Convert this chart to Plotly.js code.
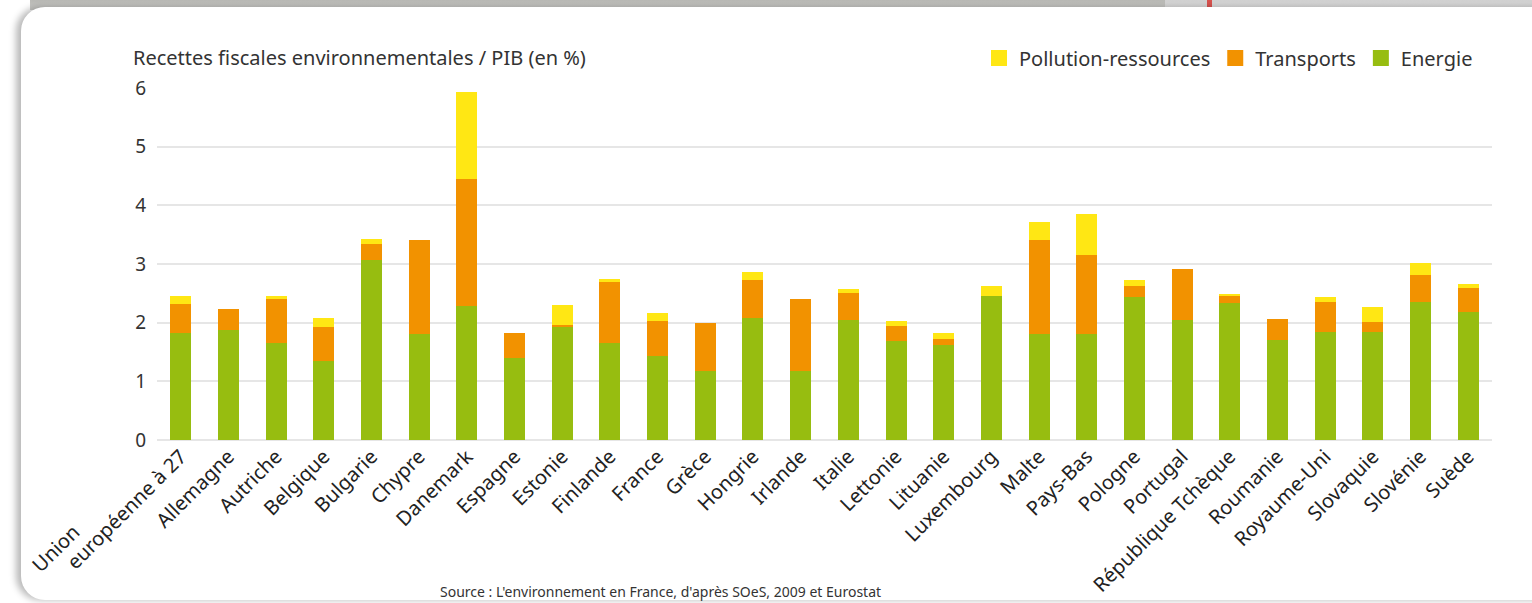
<!DOCTYPE html>
<html>
<head>
<meta charset="utf-8">
<script src="https://cdn.plot.ly/plotly-3.0.1.min.js"></script>
<style>
  html, body { margin: 0; padding: 0; background: #ffffff; width: 1532px; height: 603px; overflow: hidden; }
  #bandA { position: absolute; left: 30px; top: 0; width: 1135px; height: 10px; background: linear-gradient(#b9b9b5, #cfcfcc); }
  #bandB { position: absolute; left: 1165px; top: 0; width: 367px; height: 10px; background: linear-gradient(#d2d2d2, #e2e2e2); }
  #red { position: absolute; left: 1207px; top: 0; width: 5px; height: 11px; background: #d9534f; }
  #panel { position: absolute; left: 21px; top: 7px; width: 1560px; height: 593px; background: #ffffff; border-radius: 24px; box-shadow: -5px 0 7px rgba(0,0,0,0.28); }
  #chart { position: absolute; left: 0; top: 0; width: 1532px; height: 603px; }
</style>
</head>
<body>
<div id="bandA"></div>
<div id="bandB"></div>
<div id="red"></div>
<div id="panel"></div>
<div id="chart"></div>
<script>
const countries = ["européenne à 27","Allemagne","Autriche","Belgique","Bulgarie","Chypre","Danemark","Espagne","Estonie","Finlande","France","Grèce","Hongrie","Irlande","Italie","Lettonie","Lituanie","Luxembourg","Malte","Pays-Bas","Pologne","Portugal","République Tchèque","Roumanie","Royaume-Uni","Slovaquie","Slovénie","Suède"];
const firstLabelLine1 = "Union";
const energie = [1.82,1.88,1.66,1.34,3.07,1.80,2.29,1.39,1.93,1.66,1.44,1.18,2.08,1.17,2.04,1.69,1.62,2.45,1.80,1.81,2.44,2.05,2.33,1.71,1.84,1.84,2.35,2.19];
const transports = [0.50,0.36,0.74,0.58,0.27,1.61,2.16,0.43,0.03,1.03,0.59,0.82,0.64,1.23,0.46,0.26,0.10,0.00,1.61,1.34,0.18,0.87,0.13,0.36,0.52,0.17,0.47,0.40];
const pollution = [0.14,0.00,0.05,0.16,0.09,0.00,1.48,0.00,0.34,0.05,0.14,0.00,0.14,0.00,0.08,0.07,0.11,0.17,0.31,0.71,0.11,0.00,0.03,0.00,0.08,0.25,0.19,0.07];
const yTicks = [0,1,2,3,4,5,6];
const seriesNames = ["Energie","Transports","Pollution-ressources"];
const colors = ["#97bd10","#f29200","#ffe714"];

const FONT = "Noto Sans, Lato, sans-serif";
const x = countries.map((c,i)=>i);

const barTraces = [energie, transports, pollution].map((vals, k) => ({
  type: "bar",
  name: seriesNames[k],
  x: x,
  y: vals,
  marker: { color: colors[k], line: { width: 0 } },
  showlegend: false,
  legendgroup: seriesNames[k],
  hoverinfo: "skip"
}));

// legend entries (square swatches) for the same three series
const legendTraces = seriesNames.map((n, k) => ({
  type: "scatter",
  mode: "markers",
  name: n,
  x: [null], y: [null],
  marker: { symbol: "square", size: 16, color: colors[k] },
  legendgroup: n,
  showlegend: true,
  hoverinfo: "skip"
}));

const layout = {
  width: 1532, height: 603,
  margin: { l: 157, r: 40, t: 88, b: 163 },
  paper_bgcolor: "rgba(0,0,0,0)",
  plot_bgcolor: "rgba(0,0,0,0)",
  barmode: "stack",
  bargap: 0.56,
  showlegend: true,
  title: {
    text: "Recettes fiscales environnementales / PIB (en %)",
    font: { family: FONT, size: 20, color: "#333333" },
    xref: "container", yref: "container",
    x: 133/1532, xanchor: "left",
    y: 1 - 58/603, yanchor: "middle"
  },
  legend: {
    orientation: "h",
    traceorder: "reversed",
    xref: "container", yref: "container",
    x: 1478/1532, xanchor: "right",
    y: 1 - 58/603, yanchor: "middle",
    font: { family: FONT, size: 20, color: "#333333" },
    bgcolor: "rgba(0,0,0,0)"
  },
  xaxis: {
    tickmode: "array",
    tickvals: x,
    ticktext: countries,
    range: [-0.5, 27.5],
    tickangle: -45,
    tickfont: { family: FONT, size: 20, color: "#222222" },
    showgrid: false,
    showline: false,
    zeroline: false,
    ticks: "",
    automargin: false
  },
  yaxis: {
    range: [0, 6],
    tickmode: "array",
    tickvals: yTicks,
    ticktext: yTicks.map(String),
    tickfont: { family: FONT, size: 19, color: "#333333" },
    showgrid: true,
    gridcolor: "#e6e6e6",
    gridwidth: 2,
    zeroline: true,
    zerolinecolor: "#e6e6e6",
    zerolinewidth: 2,
    showline: false,
    ticks: "",
    ticklabelstandoff: 10,
    automargin: false
  },
  annotations: [
    {
      text: firstLabelLine1,
      xref: "paper", yref: "paper",
      x: (55 - 157) / 1335, xanchor: "center",
      y: (440 - 548) / 352, yanchor: "middle",
      textangle: -45,
      showarrow: false,
      font: { family: FONT, size: 20, color: "#222222" }
    },
    {
      text: "Source : L'environnement en France, d'après SOeS, 2009 et Eurostat",
      xref: "paper", yref: "paper",
      x: (660 - 157) / 1335, xanchor: "center",
      y: (440 - 591) / 352, yanchor: "middle",
      showarrow: false,
      font: { family: FONT, size: 14, color: "#333333" }
    }
  ]
};

Plotly.newPlot("chart", barTraces.concat(legendTraces), layout, { displayModeBar: false, staticPlot: true });
</script>
</body>
</html>
